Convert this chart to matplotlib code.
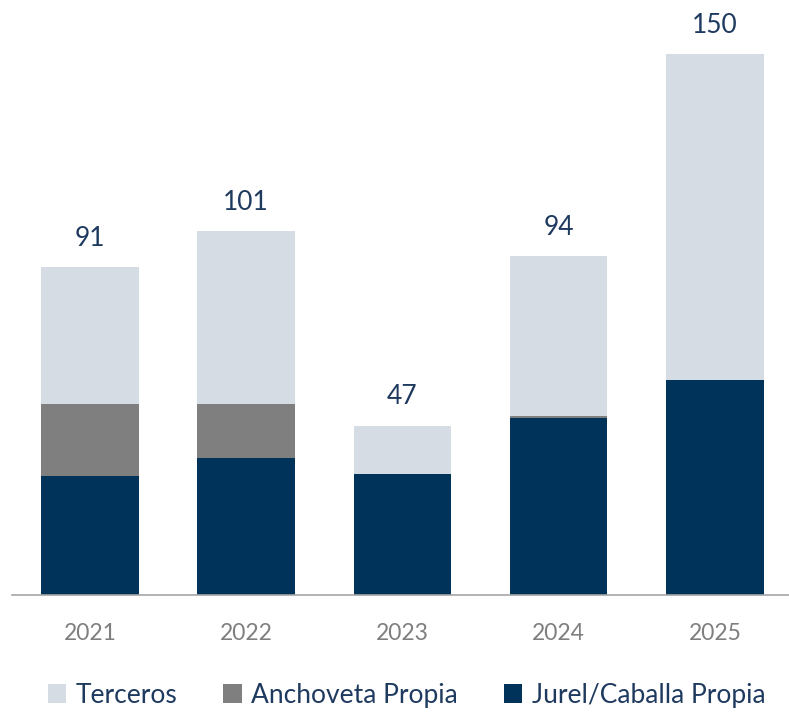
import numpy as np
import matplotlib.pyplot as plt

plt.rcParams['font.family'] = ['Lato', 'DejaVu Sans']

years = ['2021', '2022', '2023', '2024', '2025']
jurel = [33, 38, 33.5, 49, 59.5]
anchoveta = [20, 15, 0, 0.5, 0]
terceros = [38, 48, 13.5, 44.5, 90.5]
totals = [91, 101, 47, 94, 150]

c_terc = '#D6DCE4'
c_anch = '#7F7F7F'
c_jurel = '#003359'
c_text = '#1F3A5F'

fig = plt.figure(figsize=(7.89, 7.13), dpi=100)
ax = fig.add_axes([0.015, 0.1655, 0.99, 0.8345])

x = np.arange(len(years))
w = 0.625
ax.bar(x, jurel, w, color=c_jurel, label='Jurel/Caballa Propia')
ax.bar(x, anchoveta, w, bottom=jurel, color=c_anch, label='Anchoveta Propia')
bot = np.array(jurel) + np.array(anchoveta)
ax.bar(x, terceros, w, bottom=bot, color=c_terc, label='Terceros')

for xi, t in zip(x, totals):
    ax.text(xi, t + 4.5, str(t), ha='center', va='bottom', fontsize=19, color=c_text)

ax.set_ylim(0, 165)
ax.set_xlim(-0.5, len(years) - 0.5)
ax.set_xticks(x)
ax.set_xticklabels(years, fontsize=16.5, color='#7F7F7F')
ax.tick_params(axis='x', length=0, pad=20)
ax.set_yticks([])
for s in ['top', 'right', 'left']:
    ax.spines[s].set_visible(False)
ax.spines['bottom'].set_color('#A6A6A6')
ax.spines['bottom'].set_linewidth(1.2)

h, l = ax.get_legend_handles_labels()
leg = fig.legend(h[::-1], l[::-1], loc='center', bbox_to_anchor=(0.515, 0.025), ncol=3,
                 frameon=False, fontsize=19, handlelength=0.7, handleheight=0.7,
                 handletextpad=0.35, columnspacing=1.75)
for t in leg.get_texts():
    t.set_color(c_text)

fig.savefig('out.png', dpi=100)
